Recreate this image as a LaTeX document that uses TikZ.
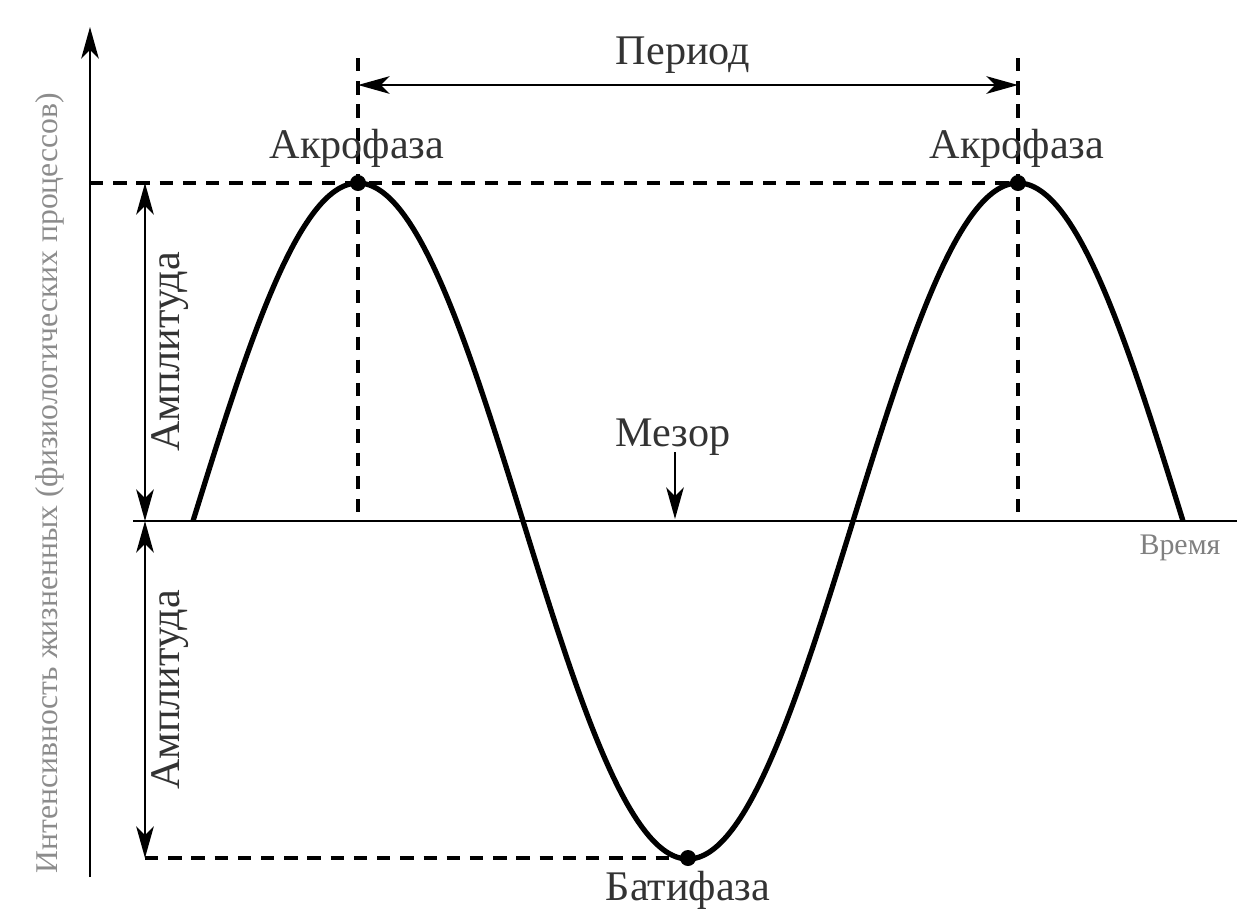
\documentclass[tikz,border=0pt]{standalone}
\usepackage{fontspec}
\setmainfont{Liberation Serif}
\usetikzlibrary{arrows.meta}

\begin{document}
\begin{tikzpicture}[x=0.01cm,y=-0.01cm,line join=round,every node/.style={inner sep=1pt},
  lbl/.style={font=\fontsize{12}{14}\selectfont,text=black!80},
  dsh/.style={dash pattern=on 3.8pt off 2.8pt,line width=1pt},
  arr/.style={line width=0.8pt,-{Stealth[length=9pt,width=5pt,inset=2.5pt]}},
  darr/.style={line width=0.8pt,{Stealth[length=9pt,width=5pt,inset=2.5pt]}-{Stealth[length=9pt,width=5pt,inset=2.5pt]}}]
  \useasboundingbox (0,0) rectangle (1245,914);
  \coordinate (O) at (90,877);
  \coordinate (Top) at (90,27);
  \coordinate (M0) at (133,521);
  \coordinate (M1) at (1237,521);
  \coordinate (A) at (358,183);
  \coordinate (B) at (1018,183);
  \coordinate (C) at (688,858);
  \coordinate (AmpT) at (145,183);
  \coordinate (AmpM) at (145,521);
  \coordinate (AmpB) at (145,858);
  \coordinate (PA) at (358,85);
  \coordinate (PB) at (1018,85);
  \coordinate (MzT) at (675,452);
  \coordinate (MzB) at (675,519);
  % axes
  \draw[arr] (O) -- (Top);
  \draw[line width=0.8pt] (M0) -- (M1);
  % guide lines
  \draw[dsh] (Top |- A) -- (B);
  \draw[dsh] (AmpB) -- (C);
  \draw[dsh] (358,58) -- (A |- M0);
  \draw[dsh] (1018,58) -- (B |- M0);
  % dimensions
  \draw[darr] (PA) -- (PB);
  \draw[darr] (AmpT) -- (AmpM);
  \draw[darr] (AmpM) -- (AmpB);
  \draw[arr] (MzT) -- (MzB);
  % rhythm
  \draw[line width=1.5pt] plot[domain=193:1183,samples=220,smooth] (\x,{521-338*sin((\x-193)/660*360)});
  \foreach \p in {A,B,C} {
    \fill (\p) circle[radius=8];
  }
  % labels
  \node[lbl] (per) at (683,55) {Период};
  \node[lbl] (akA) at (357,148) {Акрофаза};
  \node[lbl] (akB) at (1017,148) {Акрофаза};
  \node[lbl] (mez) at (673,437) {Мезор};
  \node[lbl] (bat) at (688,890) {Батифаза};
  \node[lbl,rotate=90] (amp1) at (170,352) {Амплитуда};
  \node[lbl,rotate=90] (amp2) at (170,690) {Амплитуда};
  \node[font=\fontsize{8.5}{10}\selectfont,text=black!50] (tim) at (1180,548) {Время};
  \node[font=\fontsize{9}{11}\selectfont,text=black!45,rotate=90] (ylab) at (50,483) {Интенсивность жизненных (физиологических процессов)};
\end{tikzpicture}
\end{document}
